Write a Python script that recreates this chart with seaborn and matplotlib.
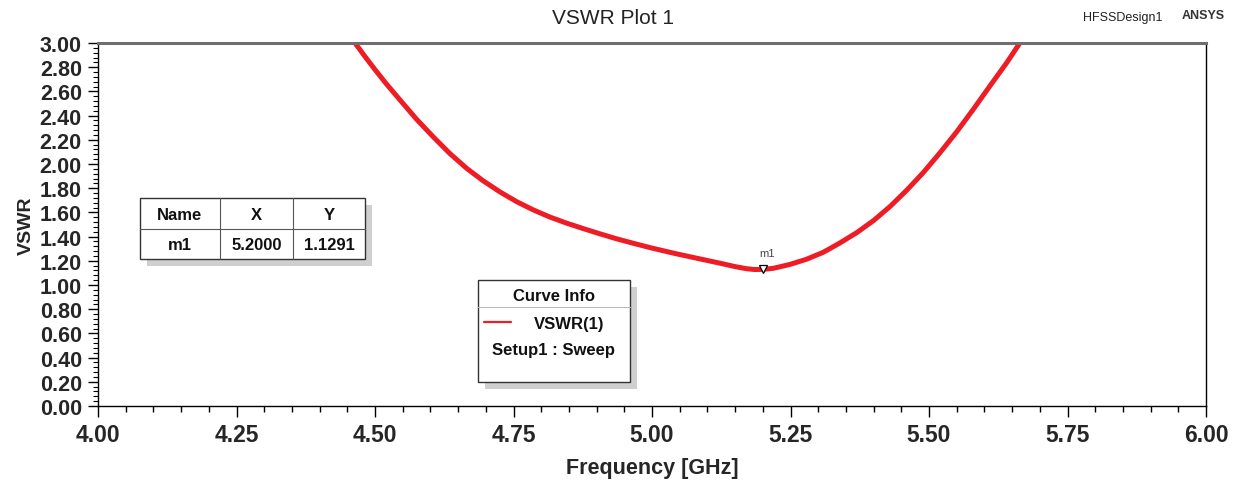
import matplotlib
matplotlib.use("Agg")
import matplotlib.pyplot as plt
import seaborn as sns
import pandas as pd
from matplotlib.ticker import MultipleLocator, FormatStrFormatter
from matplotlib.patches import Rectangle
from matplotlib.lines import Line2D

# ---- data ----
freq_ghz = [4.464, 4.480, 4.500, 4.520, 4.545, 4.575, 4.605, 4.635, 4.666, 4.695,
            4.726, 4.756, 4.786, 4.816, 4.846, 4.876, 4.906, 4.936, 4.966, 5.000,
            5.040, 5.080, 5.120, 5.150, 5.170, 5.185, 5.200, 5.219, 5.249, 5.279,
            5.309, 5.339, 5.370, 5.400, 5.430, 5.460, 5.490, 5.520, 5.550, 5.580,
            5.610, 5.640, 5.664]
vswr = [3.000, 2.900, 2.780, 2.665, 2.530, 2.370, 2.225, 2.087, 1.962, 1.862,
        1.768, 1.688, 1.620, 1.561, 1.511, 1.466, 1.423, 1.382, 1.345, 1.305,
        1.262, 1.222, 1.183, 1.152, 1.135, 1.128, 1.1291, 1.138, 1.170, 1.213,
        1.270, 1.347, 1.434, 1.533, 1.650, 1.784, 1.931, 2.094, 2.266, 2.452,
        2.645, 2.835, 3.000]
marker_name = "m1"
marker_x = 5.2000
marker_y = 1.1291
series_name = "VSWR(1)"
setup_name = "Setup1 : Sweep"

df = pd.DataFrame({"Frequency [GHz]": freq_ghz, "VSWR": vswr})

sns.set_style("white")
plt.rcParams["font.family"] = ["Liberation Sans", "DejaVu Sans"]

W, H = 1239, 481
fig = plt.figure(figsize=(W / 100, H / 100), dpi=100)
ax = fig.add_axes([98 / W, 1 - 407 / H, (1206 - 98) / W, (407 - 44) / H])

RED = "#ee1c25"
sns.lineplot(data=df, x="Frequency [GHz]", y="VSWR", ax=ax, color=RED,
             linewidth=3.6, legend=False)

ax.set_xlim(4.0, 6.0)
ax.set_ylim(0.0, 3.0)
ax.xaxis.set_major_locator(MultipleLocator(0.25))
ax.xaxis.set_minor_locator(MultipleLocator(0.05))
ax.yaxis.set_major_locator(MultipleLocator(0.2))
ax.yaxis.set_minor_locator(MultipleLocator(0.04))
ax.xaxis.set_major_formatter(FormatStrFormatter("%.2f"))
ax.yaxis.set_major_formatter(FormatStrFormatter("%.2f"))
ax.tick_params(axis="x", which="major", direction="out", length=8, width=1,
               color="black", labelsize=16.5, pad=4, bottom=True)
ax.tick_params(axis="x", which="minor", direction="out", length=4.3, width=1,
               color="black", bottom=True)
ax.tick_params(axis="y", which="major", direction="out", length=7.2, width=1,
               color="black", labelsize=15.5, pad=4.5, left=True)
ax.tick_params(axis="y", which="minor", direction="out", length=3.6, width=0.8,
               color="black", left=True)
for lab in ax.get_xticklabels() + ax.get_yticklabels():
    lab.set_fontweight("bold")

ax.set_xlabel("Frequency [GHz]", fontsize=15.5, fontweight="bold", labelpad=8)
ax.set_ylabel("VSWR", fontsize=14, fontweight="bold", labelpad=3.5)

for side in ["left", "bottom", "right"]:
    ax.spines[side].set_color("black")
    ax.spines[side].set_linewidth(1.0)
ax.spines["top"].set_color("#6e6e6e")
ax.spines["top"].set_linewidth(2.2)

# marker m1
ax.plot([marker_x], [marker_y], marker="v", markersize=6, markerfacecolor="white",
        markeredgecolor="black", markeredgewidth=0.9, linestyle="none", zorder=5)
ax.annotate(marker_name, (marker_x, marker_y), xytext=(3, 8), textcoords="offset points",
            ha="center", va="bottom", fontsize=8, color="#444444")

# titles
fig.text(613 / W, 1 - 19 / H, "VSWR Plot 1", ha="center", va="center", fontsize=15, color="#222222")
fig.text(1123 / W, 1 - 18 / H, "HFSSDesign1", ha="center", va="center", fontsize=9, color="#222222")
fig.text(1203 / W, 1 - 16 / H, "ANSYS", ha="center", va="center", fontsize=9,
         fontweight="bold", color="#333333")

def fx(px):
    return px / W

def fy(py):
    return 1 - py / H

def box(x0, y0, x1, y1):
    fig.patches.append(Rectangle((fx(x0 + 7), fy(y1 + 7)), fx(x1 - x0), (y1 - y0) / H,
                                 transform=fig.transFigure, facecolor="#cfcfcf",
                                 edgecolor="none", zorder=3))
    fig.patches.append(Rectangle((fx(x0), fy(y1)), fx(x1 - x0), (y1 - y0) / H,
                                 transform=fig.transFigure, facecolor="white",
                                 edgecolor="#333333", linewidth=1.0, zorder=4))

# marker table
box(140, 199, 365, 260)
for xv in [220, 293]:
    fig.lines.append(Line2D([fx(xv), fx(xv)], [fy(199), fy(260)], transform=fig.transFigure,
                            color="#555555", linewidth=0.8, zorder=5))
fig.lines.append(Line2D([fx(140), fx(365)], [fy(230), fy(230)], transform=fig.transFigure,
                        color="#555555", linewidth=0.8, zorder=5))
hdr = ["Name", "X", "Y"]
row = [marker_name, f"{marker_x:.4f}", f"{marker_y:.4f}"]
cx = [180, 256.5, 329]
for c, h, r in zip(cx, hdr, row):
    fig.text(fx(c), fy(216), h, ha="center", va="center", fontsize=12, fontweight="bold",
             color="#111111", zorder=6)
    fig.text(fx(c), fy(245.5), r, ha="center", va="center", fontsize=12, fontweight="bold",
             color="#111111", zorder=6)

# curve info box
box(478, 281, 630, 383)
fig.lines.append(Line2D([fx(478), fx(630)], [fy(308), fy(308)], transform=fig.transFigure,
                        color="#bbbbbb", linewidth=0.8, zorder=5))
fig.text(fx(554), fy(297), "Curve Info", ha="center", va="center", fontsize=12,
         fontweight="bold", color="#111111", zorder=6)
fig.lines.append(Line2D([fx(484), fx(511)], [fy(323), fy(323)], transform=fig.transFigure,
                        color=RED, linewidth=1.6, zorder=6))
fig.text(fx(569), fy(325), series_name, ha="center", va="center", fontsize=12,
         fontweight="bold", color="#111111", zorder=6)
fig.text(fx(554), fy(350), setup_name, ha="center", va="center", fontsize=12,
         fontweight="bold", color="#111111", zorder=6)

fig.savefig("out.png", dpi=100, facecolor="white")
